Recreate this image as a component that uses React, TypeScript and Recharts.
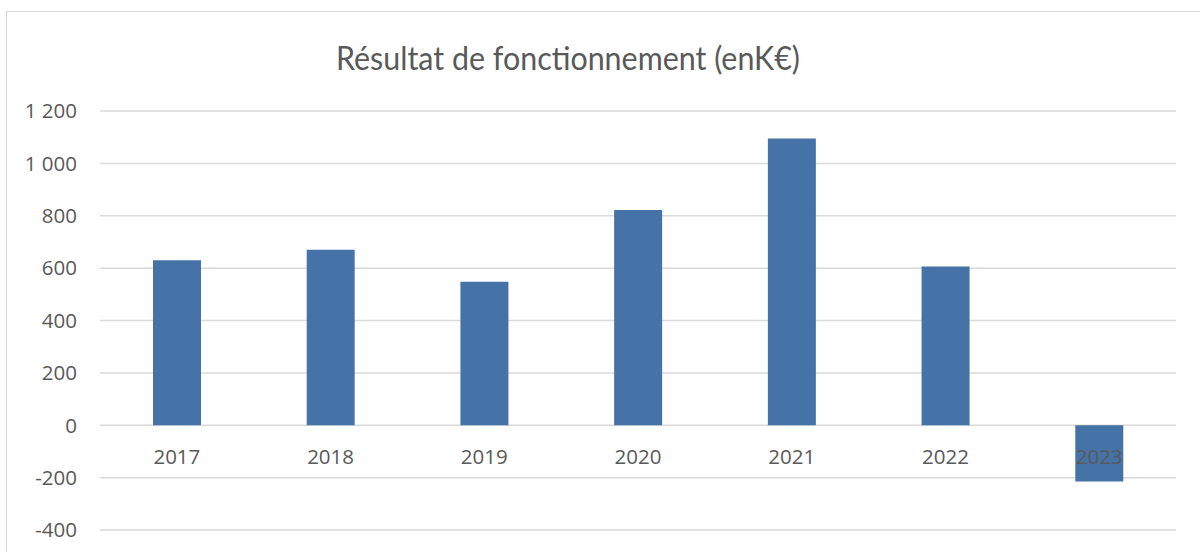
import React from 'react';
import { BarChart, Bar, XAxis, YAxis, CartesianGrid } from 'recharts';

const years = ['2017', '2018', '2019', '2020', '2021', '2022', '2023'];
const values = [630, 670, 548, 822, 1095, 606, -215];
const yTicks = [-400, -200, 0, 200, 400, 600, 800, 1000, 1200];
const chartTitle = 'Résultat de fonctionnement (enK€)';

const data = years.map((year, i) => ({ year, value: values[i] }));

const W = 1200;
const H = 552;
const X_AXIS_H = 22;
const margin = { top: 111, right: 24, bottom: 0, left: 0 };
const yMin = yTicks[0];
const yMax = yTicks[yTicks.length - 1];
const plotH = H - margin.top - margin.bottom - X_AXIS_H;
const zeroOffset = ((0 - yMin) / (yMax - yMin)) * plotH;

const TEXT = '#595959';
const FONT = '"Open Sans", "Liberation Sans", sans-serif';
const TITLE_FONT = 'Lato, "Open Sans", sans-serif';

const fmt = (v: number) => {
  const s = Math.abs(v).toString().replace(/\B(?=(\d{3})+(?!\d))/g, ' ');
  return (v < 0 ? '-' : '') + s;
};

const XTick = (props: any) => {
  const { x, y, payload } = props;
  return (
    <text x={x} y={y - zeroOffset + 39} textAnchor="middle" fill={TEXT} fontFamily={FONT} fontSize={20.5}>
      {payload.value}
    </text>
  );
};

export default function App() {
  return (
    <div style={{ position: 'absolute', left: 0, top: 0, width: W, height: H, overflow: 'hidden', background: '#fff' }}>
      <div
        style={{
          position: 'absolute',
          left: 6,
          top: 11,
          width: W + 20,
          height: H + 20,
          borderLeft: '1.5px solid #d9d9d9',
          borderTop: '1.5px solid #d9d9d9',
        }}
      />
      <svg width={W} height={100} style={{ position: 'absolute', left: 0, top: 0 }}>
        <text
          x={568}
          y={70}
          textAnchor="middle"
          fill={TEXT}
          fontFamily={TITLE_FONT}
          fontSize={32}
          textLength={464}
          lengthAdjust="spacingAndGlyphs"
        >
          {chartTitle}
        </text>
      </svg>
      <div style={{ position: 'absolute', left: 0, top: 0 }}>
        <BarChart width={W} height={H} data={data} margin={margin}>
          <CartesianGrid vertical={false} stroke="#d9d9d9" strokeWidth={1.5} />
          <YAxis
            type="number"
            domain={[yMin, yMax]}
            ticks={yTicks}
            interval={0}
            width={100}
            axisLine={false}
            tickLine={false}
            tickMargin={17}
            tickFormatter={fmt}
            tick={{ fill: TEXT, fontFamily: FONT, fontSize: 20.5 }}
          />
          <Bar dataKey="value" fill="#4573A7" barSize={48} isAnimationActive={false} />
          <XAxis
            dataKey="year"
            height={X_AXIS_H}
            axisLine={false}
            tickLine={false}
            tickSize={0}
            tickMargin={0}
            interval={0}
            tick={<XTick />}
          />
        </BarChart>
      </div>
    </div>
  );
}
